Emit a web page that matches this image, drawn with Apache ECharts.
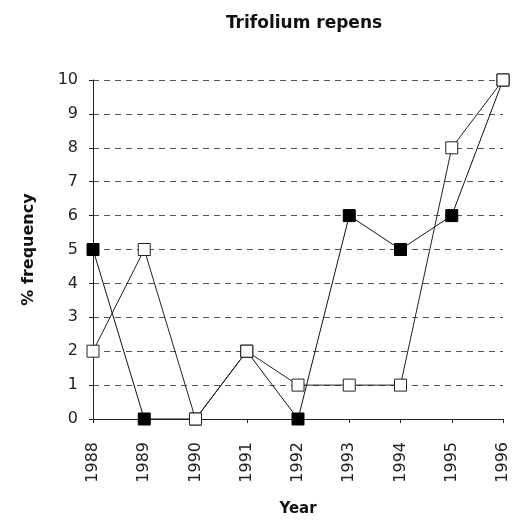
<!DOCTYPE html>
<html>
<head>
<meta charset="utf-8">
<script src="https://cdn.jsdelivr.net/npm/echarts@6/dist/echarts.min.js"></script>
<style>
  html, body { margin: 0; padding: 0; background: #fff; }
  #chart { width: 528px; height: 522px; }
</style>
</head>
<body>
<div id="chart"></div>
<script>
const years = ['1988', '1989', '1990', '1991', '1992', '1993', '1994', '1995', '1996']
const filledSeries = [5, 0, 0, 2, 0, 6, 5, 6, 10]
const openSeries = [2, 5, 0, 2, 1, 1, 1, 8, 10]

const font = 'DejaVu Sans, sans-serif'
const chart = echarts.init(document.getElementById('chart'))

chart.setOption({
  backgroundColor: '#fff',
  animation: false,
  title: {
    text: 'Trifolium repens',
    left: 299,
    top: 10,
    textAlign: 'center',
    textStyle: { fontFamily: font, fontSize: 17, fontWeight: 'bold', color: '#111' }
  },
  grid: { left: 93, right: 25, top: 80, bottom: 101 },
  xAxis: {
    type: 'category',
    data: years,
    boundaryGap: false,
    name: 'Year',
    nameLocation: 'middle',
    nameGap: 83,
    nameTextStyle: { fontFamily: font, fontSize: 15, fontWeight: 'bold', color: '#111' },
    axisLine: { lineStyle: { color: '#222', width: 1 } },
    axisTick: { show: true, length: 4, lineStyle: { color: '#222' } },
    axisLabel: { rotate: 90, margin: 23, fontFamily: font, fontSize: 16, color: '#222' },
    splitLine: { show: false }
  },
  yAxis: {
    type: 'value',
    min: 0,
    max: 10,
    interval: 1,
    name: '% frequency',
    nameLocation: 'middle',
    nameGap: 56,
    nameTextStyle: { fontFamily: font, fontSize: 16, fontWeight: 'bold', color: '#111' },
    axisLine: { show: true, lineStyle: { color: '#222', width: 1 } },
    axisTick: { show: true, length: 4, lineStyle: { color: '#222' } },
    axisLabel: { margin: 15, fontFamily: font, fontSize: 16, color: '#222' },
    splitLine: { show: true, lineStyle: { color: '#555', type: [6, 5], width: 1 } }
  },
  series: [
    {
      name: 'filled',
      type: 'line',
      data: filledSeries,
      symbol: 'rect',
      symbolSize: 12,
      lineStyle: { color: '#111', width: 1 },
      itemStyle: { color: '#000', borderColor: '#000', borderWidth: 1 },
      z: 2
    },
    {
      name: 'open',
      type: 'line',
      data: openSeries,
      symbol: 'rect',
      symbolSize: 12,
      lineStyle: { color: '#222', width: 1 },
      itemStyle: { color: '#fff', borderColor: '#222', borderWidth: 1 },
      z: 3
    }
  ]
})
</script>
</body>
</html>
